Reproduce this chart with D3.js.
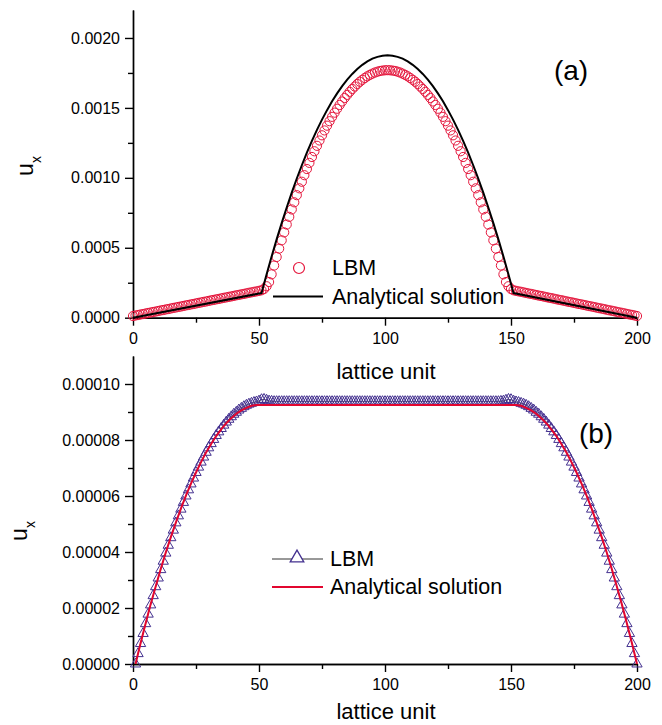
<!DOCTYPE html>
<html>
<head>
<meta charset="utf-8">
<script src="https://cdn.jsdelivr.net/npm/d3@7"></script>
<style>
  body { margin: 0; background: #fff; }
  svg { font-family: 'Liberation Sans', Arial, sans-serif; }
  .axis path, .axis line { stroke: #000; stroke-width: 1.4; }
  .axis text { font-size: 16px; fill: #000; font-family: 'Liberation Sans', Arial, sans-serif; }
</style>
</head>
<body>
<div id="chart"></div>
<script>
// all u_x values are stored in units of 1e-6
const UNIT = 1e-6

const xTicks = [0, 50, 100, 150, 200]
const xMinor = [25, 75, 125, 175]
const yTicksA = [0, 0.0005, 0.0010, 0.0015, 0.0020]
const yMinorA = [0.00025, 0.00075, 0.00125, 0.00175]
const yTicksB = [0, 0.00002, 0.00004, 0.00006, 0.00008, 0.00010]
const yMinorB = [0.00001, 0.00003, 0.00005, 0.00007, 0.00009]

// (a) LBM, one value per lattice node 0..200
const lbmA = [
  12, 16, 19, 23, 26, 30, 34, 37, 41, 44,
  48, 52, 55, 59, 62, 66, 70, 73, 77, 80,
  84, 88, 91, 95, 98, 102, 106, 109, 113, 116,
  120, 124, 127, 131, 134, 138, 142, 145, 149, 152,
  156, 160, 163, 167, 170, 174, 178, 181, 185, 188,
  192, 196,
  205, 225, 255, 310, 373, 434, 494, 553, 610, 666,
  721, 774, 825, 876, 925, 972, 1019, 1063, 1107, 1149,
  1190, 1229, 1267, 1304, 1339, 1373, 1405, 1436, 1466, 1494,
  1521, 1546, 1571, 1593, 1615, 1635, 1653, 1671, 1687, 1701,
  1714, 1726, 1736, 1745, 1753, 1759, 1764, 1767, 1769,
  1770,
  1769, 1767, 1764, 1759, 1753, 1745, 1736, 1726, 1714, 1701,
  1687, 1671, 1653, 1635, 1615, 1593, 1571, 1546, 1521, 1494,
  1466, 1436, 1405, 1373, 1339, 1304, 1267, 1229, 1190, 1149,
  1107, 1063, 1019, 972, 925, 876, 825, 774, 721, 666,
  610, 553, 494, 434, 373, 310, 255, 225, 205,
  196, 192, 188, 185, 181, 177, 173, 170, 166, 162,
  158, 155, 151, 147, 143, 140, 136, 132, 128, 125,
  121, 117, 113, 110, 106, 102, 98, 95, 91, 87,
  83, 80, 76, 72, 68, 65, 61, 57, 53, 50,
  46, 42, 38, 35, 31, 27, 23, 20, 16, 12
]

// (a) analytical solution
const anaAx = [
  0, 51, 53, 55, 57, 59, 61, 63, 65, 67, 69, 71, 73, 75, 77, 79, 81, 83, 85, 87, 89, 91, 93, 95, 97, 99, 101,
  103, 105, 107, 109, 111, 113, 115, 117, 119, 121, 123, 125, 127, 129, 131, 133, 135, 137, 139, 141, 143, 145, 147, 149, 151, 200
]
const anaAy = [
  0, 176, 309, 437, 560, 676, 788, 894, 995, 1090, 1180, 1264, 1343, 1416, 1484, 1547, 1604, 1656, 1702, 1743, 1778, 1808, 1832, 1852, 1865, 1873, 1876,
  1873, 1865, 1852, 1832, 1808, 1778, 1743, 1702, 1656, 1604, 1547, 1484, 1416, 1343, 1264, 1180, 1090, 995, 894, 788, 676, 560, 437, 309, 176, 0
]

// (b) LBM, one value per lattice node 1..200
const lbmB = [
  0, 3.7, 7.3, 10.9, 14.4, 17.8, 21.1, 24.4, 27.6, 30.7,
  33.7, 36.7, 39.6, 42.4, 45.1, 47.8, 50.4, 52.9, 55.3, 57.7,
  60.0, 62.2, 64.3, 66.4, 68.4, 70.3, 72.1, 73.9, 75.6, 77.2,
  78.7, 80.2, 81.6, 82.9, 84.1, 85.3, 86.4, 87.4, 88.3, 89.2,
  89.9, 90.7, 91.3, 91.9, 92.4, 92.8, 93.1, 93.4, 93.6,
  93.9, 94.4, 94.5, 94.2, 93.9, 93.8,
  93.7, 93.7, 93.7, 93.7, 93.7, 93.7, 93.7, 93.7, 93.7, 93.7,
  93.7, 93.7, 93.7, 93.7, 93.7, 93.7, 93.7, 93.7, 93.7, 93.7,
  93.7, 93.7, 93.7, 93.7, 93.7, 93.7, 93.7, 93.7, 93.7, 93.7,
  93.7, 93.7, 93.7, 93.7, 93.7, 93.7, 93.7, 93.7, 93.7, 93.7,
  93.7, 93.7, 93.7, 93.7, 93.7, 93.7, 93.7, 93.7, 93.7, 93.7,
  93.7, 93.7, 93.7, 93.7, 93.7, 93.7, 93.7, 93.7, 93.7, 93.7,
  93.7, 93.7, 93.7, 93.7, 93.7, 93.7, 93.7, 93.7, 93.7, 93.7,
  93.7, 93.7, 93.7, 93.7, 93.7, 93.7, 93.7, 93.7, 93.7, 93.7,
  93.7, 93.7, 93.7, 93.7, 93.7, 93.7, 93.7, 93.7, 93.7, 93.7,
  93.8, 93.9, 94.2, 94.5, 94.4, 93.9,
  93.6, 93.4, 93.1, 92.8, 92.4, 91.9, 91.3, 90.7, 89.9, 89.2,
  88.3, 87.4, 86.4, 85.3, 84.1, 82.9, 81.6, 80.2, 78.7, 77.2,
  75.6, 73.9, 72.1, 70.3, 68.4, 66.4, 64.3, 62.2, 60.0, 57.7,
  55.3, 52.9, 50.4, 47.8, 45.1, 42.4, 39.6, 36.7, 33.7, 30.7,
  27.6, 24.4, 21.1, 17.8, 14.4, 10.9, 7.3, 3.7, 0
]

// (b) analytical solution
const anaBx = [
  1, 3, 5, 7, 9, 11, 13, 15, 17, 19, 21, 23, 25, 27, 29, 31, 33, 35, 37, 39, 41, 43, 45, 47, 49, 50,
  151, 152, 154, 156, 158, 160, 162, 164, 166, 168, 170, 172, 174, 176, 178, 180, 182, 184, 186, 188, 190, 192, 194, 196, 198, 200
]
const anaBy = [
  0, 7.4, 14.5, 21.3, 27.7, 33.9, 39.8, 45.3, 50.5, 55.5, 60.1, 64.4, 68.4, 72.1, 75.5, 78.6, 81.4, 83.8, 86.0, 87.8, 89.4, 90.6, 91.5, 92.2, 92.5, 92.5,
  92.5, 92.5, 92.2, 91.5, 90.6, 89.4, 87.8, 86.0, 83.8, 81.4, 78.6, 75.5, 72.1, 68.4, 64.4, 60.1, 55.5, 50.5, 45.3, 39.8, 33.9, 27.7, 21.3, 14.5, 7.4, 0
]

const circleRed = '#e5173d'
const lineRed = '#e2062f'
const purple = '#43308f'

const svg = d3.select('#chart')
  .append('svg')
  .attr('width', 662)
  .attr('height', 725)

const xScale = d3.scaleLinear().domain([0, 200]).range([133, 637])

const yA = d3.scaleLinear().domain([0, 0.0022]).range([317.7, 10])
const yB = d3.scaleLinear().domain([0, 0.00011]).range([664, 356])

function drawAxes (y, majors, minors, fmt) {
  const base = y.range()[0]

  svg.append('g')
    .attr('class', 'axis')
    .attr('transform', 'translate(0,' + base + ')')
    .call(d3.axisBottom(xScale).tickValues(xMinor).tickSize(5).tickSizeOuter(0).tickFormat(''))
  svg.append('g')
    .attr('class', 'axis')
    .attr('transform', 'translate(0,' + base + ')')
    .call(d3.axisBottom(xScale).tickValues(xTicks).tickSize(8).tickPadding(6.5).tickSizeOuter(0))

  svg.append('g')
    .attr('class', 'axis')
    .attr('transform', 'translate(133,0)')
    .call(d3.axisLeft(y).tickValues(minors).tickSize(5).tickSizeOuter(0).tickFormat(''))
  svg.append('g')
    .attr('class', 'axis')
    .attr('transform', 'translate(133,0)')
    .call(d3.axisLeft(y).tickValues(majors).tickSize(8).tickPadding(5).tickSizeOuter(0).tickFormat(d3.format(fmt)))
}

drawAxes(yA, yTicksA, yMinorA, '.4f')
drawAxes(yB, yTicksB, yMinorB, '.5f')

// ---- panel (a) ----
svg.append('g')
  .selectAll('circle')
  .data(lbmA)
  .enter().append('circle')
  .attr('cx', (d, i) => xScale(i))
  .attr('cy', d => yA(d * UNIT))
  .attr('r', 4.6)
  .attr('fill', 'none')
  .attr('stroke', circleRed)
  .attr('stroke-width', 1)

const lineA = d3.line()
  .x((d, i) => xScale(anaAx[i]))
  .y(d => yA(d * UNIT))

svg.append('path')
  .datum(anaAy)
  .attr('d', lineA)
  .attr('fill', 'none')
  .attr('stroke', '#000')
  .attr('stroke-width', 2)

// ---- panel (b) ----
const lineLbmB = d3.line()
  .x((d, i) => xScale(i + 1))
  .y(d => yB(d * UNIT))

svg.append('path')
  .datum(lbmB)
  .attr('d', lineLbmB)
  .attr('fill', 'none')
  .attr('stroke', '#333')
  .attr('stroke-width', 0.8)

const tri = d3.symbol().type(d3.symbolTriangle).size(46)
svg.append('g')
  .selectAll('path')
  .data(lbmB)
  .enter().append('path')
  .attr('d', tri)
  .attr('transform', (d, i) => 'translate(' + xScale(i + 1) + ',' + yB(d * UNIT) + ')')
  .attr('fill', 'none')
  .attr('stroke', purple)
  .attr('stroke-width', 1)

const lineB = d3.line()
  .x((d, i) => xScale(anaBx[i]))
  .y(d => yB(d * UNIT))

svg.append('path')
  .datum(anaBy)
  .attr('d', lineB)
  .attr('fill', 'none')
  .attr('stroke', lineRed)
  .attr('stroke-width', 2)

// ---- labels ----
function yTitle (x, y) {
  const t = svg.append('text')
    .attr('transform', 'translate(' + x + ',' + y + ') rotate(-90)')
    .attr('text-anchor', 'middle')
    .attr('font-size', 23)
  t.append('tspan').text('u')
  t.append('tspan').attr('dy', 8).attr('font-size', 14).text('x')
}
yTitle(33, 166)
yTitle(27, 531)

svg.append('text')
  .attr('x', 386).attr('y', 379)
  .attr('text-anchor', 'middle')
  .attr('font-size', 22)
  .text('lattice unit')
svg.append('text')
  .attr('x', 386).attr('y', 719)
  .attr('text-anchor', 'middle')
  .attr('font-size', 22)
  .text('lattice unit')

svg.append('text')
  .attr('x', 571).attr('y', 80)
  .attr('text-anchor', 'middle')
  .attr('font-size', 28)
  .text('(a)')
svg.append('text')
  .attr('x', 596).attr('y', 443)
  .attr('text-anchor', 'middle')
  .attr('font-size', 28)
  .text('(b)')

// legend (a)
svg.append('circle')
  .attr('cx', 299).attr('cy', 268).attr('r', 5.5)
  .attr('fill', 'none').attr('stroke', circleRed).attr('stroke-width', 1.2)
svg.append('line')
  .attr('x1', 273).attr('x2', 323).attr('y1', 296.5).attr('y2', 296.5)
  .attr('stroke', '#000').attr('stroke-width', 2)
svg.append('text').attr('x', 332).attr('y', 275).attr('font-size', 21.5).text('LBM')
svg.append('text').attr('x', 332).attr('y', 303.5).attr('font-size', 21.5).text('Analytical solution')

// legend (b)
svg.append('line')
  .attr('x1', 272).attr('x2', 323).attr('y1', 559).attr('y2', 559)
  .attr('stroke', '#333').attr('stroke-width', 1)
svg.append('path')
  .attr('d', d3.symbol().type(d3.symbolTriangle).size(80))
  .attr('transform', 'translate(297,558)')
  .attr('fill', '#fff').attr('stroke', purple).attr('stroke-width', 1.3)
svg.append('line')
  .attr('x1', 272).attr('x2', 323).attr('y1', 587).attr('y2', 587)
  .attr('stroke', lineRed).attr('stroke-width', 2)
svg.append('text').attr('x', 330).attr('y', 566).attr('font-size', 21.5).text('LBM')
svg.append('text').attr('x', 330).attr('y', 594).attr('font-size', 21.5).text('Analytical solution')
</script>
</body>
</html>
